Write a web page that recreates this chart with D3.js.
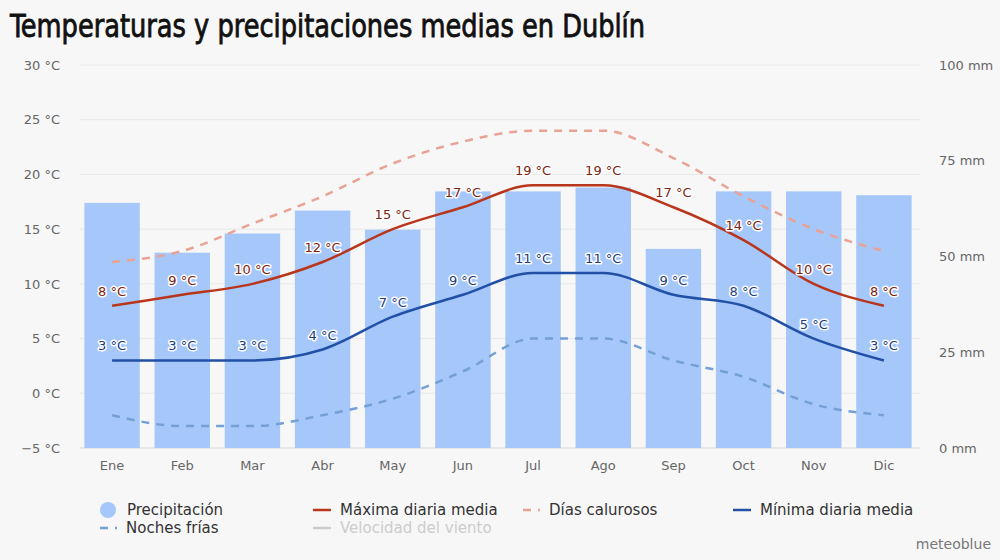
<!DOCTYPE html>
<html>
<head>
<meta charset="utf-8">
<script src="https://cdn.jsdelivr.net/npm/d3@7"></script>
<style>
  body { margin: 0; background: #f7f7f7; }
  svg { display: block; font-family: "DejaVu Sans", Verdana, sans-serif; }
</style>
</head>
<body>
<div id="chart"></div>
<script>
const months = ["Ene", "Feb", "Mar", "Abr", "May", "Jun", "Jul", "Ago", "Sep", "Oct", "Nov", "Dic"];
const precipitation = [64, 51, 56, 62, 57, 67, 67, 68, 52, 67, 67, 66];
const maxTemp = [8, 9, 10, 12, 15, 17, 19, 19, 17, 14, 10, 8];
const minTemp = [3, 3, 3, 4, 7, 9, 11, 11, 9, 8, 5, 3];
const hotDays = [12, 13, 15.5, 18, 21, 23, 24, 24, 21.5, 18, 15, 13];
const coldNights = [-2, -3, -3, -2, -0.5, 2, 5, 5, 3, 1.5, -1, -2];
const tempTicks = [-5, 0, 5, 10, 15, 20, 25, 30];
const precipTicks = [0, 25, 50, 75, 100];

const width = 1000, height = 560;
const margin = { top: 65, right: 81, bottom: 112, left: 77 };

const svg = d3.select("#chart").append("svg")
  .attr("width", width)
  .attr("height", height);

svg.append("rect").attr("width", width).attr("height", height).attr("fill", "#f7f7f7");

// title (regular narrow face, thickened a little with a stroke)
svg.append("text")
  .attr("x", 10)
  .attr("y", 37)
  .attr("textLength", 635)
  .attr("lengthAdjust", "spacingAndGlyphs")
  .style("font-family", "'Liberation Sans Narrow', 'DejaVu Sans Condensed', sans-serif")
  .style("font-size", "32px")
  .attr("fill", "#111")
  .attr("stroke", "#111")
  .attr("stroke-width", 0.8)
  .text("Temperaturas y precipitaciones medias en Dublín");

const x = d3.scaleBand()
  .domain(months)
  .range([margin.left, width - margin.right])
  .paddingInner(0.21)
  .paddingOuter(0.105);

const yT = d3.scaleLinear().domain([-5, 30]).range([height - margin.bottom, margin.top]);
const yP = d3.scaleLinear().domain([0, 100]).range([height - margin.bottom, margin.top]);

const cx = m => x(m) + x.bandwidth() / 2;

// grid lines
svg.append("g")
  .selectAll("line")
  .data(tempTicks)
  .enter().append("line")
  .attr("x1", 80)
  .attr("x2", 920)
  .attr("y1", d => yT(d))
  .attr("y2", d => yT(d))
  .attr("stroke", d => d === -5 ? "#d8d8d8" : "#e8e8e8")
  .attr("stroke-width", 1);

// left axis
const leftAxis = svg.append("g")
  .attr("transform", "translate(60,0)")
  .call(d3.axisLeft(yT).tickValues(tempTicks).tickSize(0).tickPadding(0)
    .tickFormat(d => (d < 0 ? "\u2212" + Math.abs(d) : d) + " °C"));
leftAxis.select(".domain").remove();
leftAxis.selectAll("text").attr("fill", "#666").style("font-size", "13px").style("font-family", "'DejaVu Sans', sans-serif");

// right axis
const rightAxis = svg.append("g")
  .attr("transform", "translate(939,0)")
  .call(d3.axisRight(yP).tickValues(precipTicks).tickSize(0).tickPadding(0).tickFormat(d => d + " mm"));
rightAxis.select(".domain").remove();
rightAxis.selectAll("text").attr("fill", "#666").style("font-size", "13px").style("font-family", "'DejaVu Sans', sans-serif");

// bottom axis
const bottomAxis = svg.append("g")
  .attr("transform", `translate(0,${height - margin.bottom})`)
  .call(d3.axisBottom(x).tickSize(0).tickPadding(13));
bottomAxis.select(".domain").remove();
bottomAxis.selectAll("text").attr("fill", "#666").style("font-size", "13px").style("font-family", "'DejaVu Sans', sans-serif");

// bars
svg.append("g")
  .selectAll("rect")
  .data(precipitation)
  .enter().append("rect")
  .attr("x", (d, i) => x(months[i]))
  .attr("y", d => yP(d))
  .attr("width", x.bandwidth())
  .attr("height", d => yP(0) - yP(d))
  .attr("fill", "#a6c7fa");

const line = d3.line()
  .x((d, i) => cx(months[i]))
  .y(d => yT(d))
  .curve(d3.curveMonotoneX);

const series = [
  { data: coldNights, color: "#74a0d6", dash: "8,7" },
  { data: hotDays, color: "#e9a394", dash: "8,7" },
  { data: minTemp, color: "#2150a6", dash: null },
  { data: maxTemp, color: "#b8361c", dash: null }
];

series.forEach(s => {
  svg.append("path")
    .datum(s.data)
    .attr("d", line)
    .attr("fill", "none")
    .attr("stroke", s.color)
    .attr("stroke-width", 2.5)
    .attr("stroke-dasharray", s.dash);
});

// value labels
function addLabels(data, color) {
  const g = svg.append("g");
  g.selectAll("text")
    .data(data)
    .enter().append("text")
    .attr("x", (d, i) => cx(months[i]))
    .attr("y", d => yT(d) - 10)
    .attr("text-anchor", "middle")
    .style("font-size", "13px")
    .attr("fill", color)
    .attr("stroke", "#fff")
    .attr("stroke-width", 3)
    .attr("stroke-linejoin", "round")
    .attr("paint-order", "stroke")
    .text(d => d + " °C");
}
addLabels(minTemp, "#1d3d80");
addLabels(maxTemp, "#7d2410");

// legend
const legend = svg.append("g").style("font-size", "15px");
const legendItems = [
  { label: "Precipitación", type: "circle", color: "#a6c7fa", x: 100, y: 510, text: "#333" },
  { label: "Máxima diaria media", type: "line", color: "#b8361c", x: 313, y: 510, text: "#333" },
  { label: "Días calurosos", type: "dash", color: "#e9a394", x: 523, y: 510, text: "#333" },
  { label: "Mínima diaria media", type: "line", color: "#2150a6", x: 733, y: 510, text: "#333" },
  { label: "Noches frías", type: "dash", color: "#74a0d6", x: 100, y: 528, text: "#333" },
  { label: "Velocidad del viento", type: "line", color: "#cccccc", x: 313, y: 528, text: "#cccccc" }
];

legendItems.forEach(it => {
  if (it.type === "circle") {
    legend.append("circle").attr("cx", it.x + 8).attr("cy", it.y).attr("r", 8).attr("fill", it.color);
  } else if (it.type === "line") {
    legend.append("line").attr("x1", it.x).attr("x2", it.x + 18).attr("y1", it.y).attr("y2", it.y)
      .attr("stroke", it.color).attr("stroke-width", 2.5);
  } else {
    legend.append("line").attr("x1", it.x).attr("x2", it.x + 20).attr("y1", it.y).attr("y2", it.y)
      .attr("stroke", it.color).attr("stroke-width", 2.5).attr("stroke-dasharray", "8,7,2,20");
  }
  legend.append("text")
    .attr("x", it.type === "dash" ? it.x + 26 : it.x + 27)
    .attr("y", it.y)
    .attr("dy", "0.35em")
    .attr("fill", it.text)
    .text(it.label);
});

svg.append("text")
  .attr("x", 991)
  .attr("y", 544)
  .attr("dy", "0.35em")
  .attr("text-anchor", "end")
  .attr("fill", "#777")
  .style("font-size", "14px")
  .text("meteoblue");
</script>
</body>
</html>
